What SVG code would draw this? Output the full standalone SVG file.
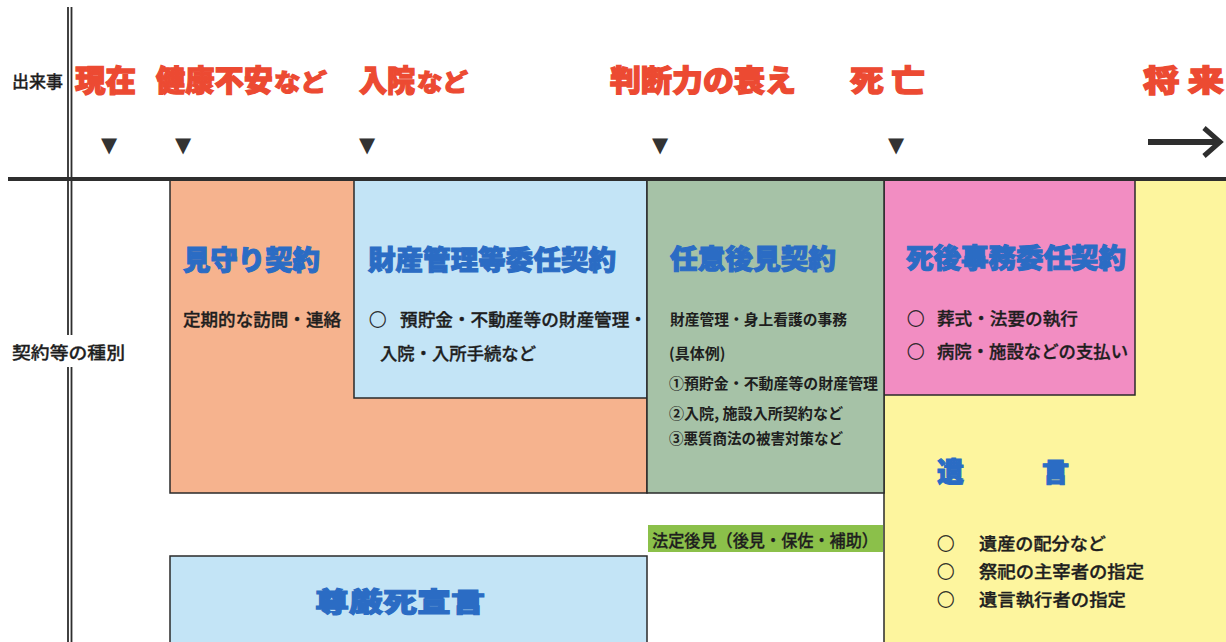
<svg xmlns="http://www.w3.org/2000/svg" width="1226" height="642" viewBox="0 0 1226 642">
<style>
text{font-family:"Noto Sans CJK JP","Noto Sans CJK SC",sans-serif;dominant-baseline:central}
.ev{fill:#ec4a32;stroke:#ec4a32;stroke-width:1.3px;font-weight:900;font-size:30px}
.ev2{fill:#ec4a32;stroke:#ec4a32;stroke-width:1.1px;font-weight:900;font-size:24px}
.hd{fill:#2b6cc4;stroke:#2b6cc4;stroke-width:1.1px;font-weight:900;font-size:27px}
.bd{fill:#1e1e1e;stroke:#1e1e1e;stroke-width:0.35px;font-size:17.5px;font-weight:500}
.gb{fill:#1e1e1e;font-size:15px;font-weight:700}
.lb{fill:#1e1e1e;stroke:#1e1e1e;stroke-width:0.3px;font-size:17px;font-weight:500}
.box{stroke:#2a2a2a;stroke-width:1.5}
.ax{stroke:#2e2e2e;fill:none}
.tri{fill:#333;font-size:21px;text-anchor:middle;font-family:"DejaVu Sans",sans-serif}
</style>

<!-- nodes -->
<g id="yuigon">
<rect x="884" y="180" width="345" height="465" fill="#fdf59e" class="box"/>
<text class="hd" font-size="33" x="937" y="470"><tspan x="937">遺</tspan><tspan x="1042">言</tspan></text>
<text class="bd" x="937" y="542" font-size="18">○</text>
<text class="bd" x="979" y="542" font-size="18.5" textLength="127" lengthAdjust="spacingAndGlyphs">遺産の配分など</text>
<text class="bd" x="937" y="570" font-size="18">○</text>
<text class="bd" x="979" y="570" font-size="18.5" textLength="165" lengthAdjust="spacingAndGlyphs">祭祀の主宰者の指定</text>
<text class="bd" x="937" y="598" font-size="18">○</text>
<text class="bd" x="979" y="598" font-size="18.5" textLength="147" lengthAdjust="spacingAndGlyphs">遺言執行者の指定</text>
</g>

<g id="shigo">
<rect x="884" y="180" width="251" height="215" fill="#f28dc2" class="box"/>
<text class="hd" x="906" y="256" textLength="220" lengthAdjust="spacingAndGlyphs">死後事務委任契約</text>
<text class="bd" x="907" y="317" font-size="18">○</text>
<text class="bd" x="937" y="317" font-size="18" textLength="141" lengthAdjust="spacingAndGlyphs">葬式・法要の執行</text>
<text class="bd" x="907" y="350" font-size="18">○</text>
<text class="bd" x="937" y="350" font-size="18" textLength="191" lengthAdjust="spacingAndGlyphs">病院・施設などの支払い</text>
</g>

<g id="mimamori">
<rect x="170" y="180" width="477" height="313" fill="#f6b38e" class="box"/>
<text class="hd" x="183" y="258" textLength="137" lengthAdjust="spacingAndGlyphs">見守り契約</text>
<text class="bd" x="183" y="318" textLength="158" lengthAdjust="spacingAndGlyphs">定期的な訪問・連絡</text>
</g>

<g id="zaisan">
<rect x="354" y="180" width="293" height="218" fill="#c3e4f6" class="box"/>
<text class="hd" x="368" y="258" textLength="248" lengthAdjust="spacingAndGlyphs">財産管理等委任契約</text>
<text class="bd" x="369" y="318">○</text>
<text class="bd" x="400" y="318" textLength="247" lengthAdjust="spacingAndGlyphs">預貯金・不動産等の財産管理・</text>
<text class="bd" x="380" y="352" textLength="156" lengthAdjust="spacingAndGlyphs">入院・入所手続など</text>
</g>

<g id="nini">
<rect x="647" y="180" width="237" height="313" fill="#a6c2a7" class="box"/>
<text class="hd" x="670" y="257" textLength="166" lengthAdjust="spacingAndGlyphs">任意後見契約</text>
<text class="gb" x="670" y="318" textLength="177" lengthAdjust="spacingAndGlyphs">財産管理・身上看護の事務</text>
<text class="gb" x="669" y="352">(具体例)</text>
<text class="gb" x="669" y="382" textLength="209" lengthAdjust="spacingAndGlyphs">①預貯金・不動産等の財産管理</text>
<text class="gb" x="669" y="412" textLength="174" lengthAdjust="spacingAndGlyphs">②入院, 施設入所契約など</text>
<text class="gb" x="669" y="437" textLength="174" lengthAdjust="spacingAndGlyphs">③悪質商法の被害対策など</text>
</g>

<g id="hotei">
<rect x="648" y="525" width="235" height="27" fill="#8bc04a"/>
<text class="lb" x="652" y="539" textLength="226" lengthAdjust="spacingAndGlyphs">法定後見（後見・保佐・補助）</text>
</g>

<g id="songenshi">
<rect x="170" y="556" width="477" height="100" fill="#c3e4f6" class="box"/>
<text class="hd" font-size="31" x="315" y="600" textLength="170" lengthAdjust="spacingAndGlyphs">尊厳死宣言</text>
</g>

<!-- labels and events -->
<g id="labels">
<text class="lb" x="12" y="80" font-size="16" textLength="51" lengthAdjust="spacingAndGlyphs">出来事</text>
<text class="lb" x="12" y="351" font-size="18" textLength="113" lengthAdjust="spacingAndGlyphs">契約等の種別</text>
</g>

<g id="events">
<text class="ev" x="75" y="78" textLength="61" lengthAdjust="spacingAndGlyphs">現在</text>
<text class="ev" x="156" y="78" textLength="117" lengthAdjust="spacingAndGlyphs">健康不安</text>
<text class="ev2" x="274" y="80" textLength="53" lengthAdjust="spacingAndGlyphs">など</text>
<text class="ev" x="359" y="78" textLength="56" lengthAdjust="spacingAndGlyphs">入院</text>
<text class="ev2" x="417" y="80" textLength="51" lengthAdjust="spacingAndGlyphs">など</text>
<text class="ev" x="610" y="78" textLength="186" lengthAdjust="spacingAndGlyphs">判断力の衰え</text>
<text class="ev" x="850" y="78" textLength="75" lengthAdjust="spacingAndGlyphs">死 亡</text>
<text class="ev" x="1143" y="78" textLength="81" lengthAdjust="spacingAndGlyphs">将 来</text>
<text class="tri" x="109" y="145">▼</text>
<text class="tri" x="183" y="145">▼</text>
<text class="tri" x="367" y="145">▼</text>
<text class="tri" x="660" y="145">▼</text>
<text class="tri" x="896" y="145">▼</text>
</g>

<!-- connectors / axes -->
<g id="connectors">
<line class="ax" x1="8" y1="179" x2="1226" y2="179" stroke-width="4"/>
<path class="ax" d="M68 7V335M68 367V642M71.5 7V335M71.5 367V642" stroke-width="1.8"/>
<line class="ax" x1="1148" y1="142" x2="1218" y2="142" stroke-width="6"/>
<path class="ax" d="M1204 128L1220 142L1204 156" stroke-width="5"/>
</g>
</svg>
